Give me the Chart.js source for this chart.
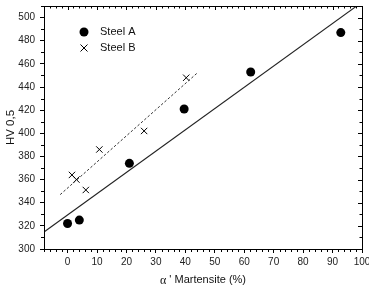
<!DOCTYPE html>
<html>
<head>
<meta charset="utf-8">
<script src="https://cdn.jsdelivr.net/npm/chart.js@4.4.1/dist/chart.umd.min.js"></script>
<style>
html,body{margin:0;padding:0;background:#fff;}
#c{display:block;}
</style>
</head>
<body>
<canvas id="c" width="369" height="285"></canvas>
<script>
// ---- data ----
const steelA_x = [0, 4, 21, 39.6, 62.2, 92.8];
const steelA_y = [322, 325, 374, 421, 453, 487];
const steelB_x = [1.5, 3, 6.2, 10.8, 26, 40.3];
const steelB_y = [364, 360, 351, 386, 402, 448];
const fitA_x = [-8, 100];
const fitA_y = [314.7, 513.3];
const fitB_x = [-2.5, 44];
const fitB_y = [347, 452];
const xTicks = [0, 10, 20, 30, 40, 50, 60, 70, 80, 90, 100];
const yTicks = [300, 320, 340, 360, 380, 400, 420, 440, 460, 480, 500];
const xRange = [-8, 100];
const yRange = [300, 510];
const legendLabels = ['Steel A', 'Steel B'];
const xTitleGreek = 'α';
const xTitleRest = " ' Martensite (%)";
const yTitle = 'HV 0,5';

const zip = (xs, ys) => xs.map((x, i) => ({x: x, y: ys[i]}));
const SANS = "'Liberation Sans', Arial, sans-serif";

const framePlugin = {
  id: 'frame',
  afterDraw(chart) {
    const ctx = chart.ctx;
    const a = chart.chartArea;
    const xs = chart.scales.x, ys = chart.scales.y;
    ctx.save();
    ctx.strokeStyle = '#000';
    ctx.lineWidth = 1;
    ctx.beginPath();
    ctx.rect(Math.round(a.left) + 0.5, Math.round(a.top) + 0.5, Math.round(a.right - a.left), Math.round(a.bottom - a.top));
    ctx.stroke();
    ctx.beginPath();
    for (let v = -8; v <= 100; v += 2) {
      const px = Math.round(xs.getPixelForValue(v)) + 0.5;
      const major = (v % 10 === 0);
      if (!major) {
        ctx.moveTo(px, a.bottom); ctx.lineTo(px, a.bottom + 3);
      }
      ctx.moveTo(px, a.top); ctx.lineTo(px, a.top + (major ? 4 : 2.5));
    }
    for (let v = 300; v <= 510; v += 10) {
      const py = Math.round(ys.getPixelForValue(v)) + 0.5;
      const major = (v % 20 === 0);
      if (!major) {
        ctx.moveTo(a.left, py); ctx.lineTo(a.left - 3, py);
      }
      ctx.moveTo(a.right, py); ctx.lineTo(a.right - (major ? 4 : 2.5), py);
    }
    ctx.stroke();

    // legend inside plot
    ctx.fillStyle = '#000';
    const lx = xs.getPixelForValue(xRange[0]) + 40;
    const ly1 = a.top + 26, ly2 = a.top + 42;
    ctx.beginPath();
    ctx.arc(lx, ly1, 4.5, 0, Math.PI * 2);
    ctx.fill();
    ctx.beginPath();
    ctx.moveTo(lx - 3.5, ly2 - 3.5); ctx.lineTo(lx + 3.5, ly2 + 3.5);
    ctx.moveTo(lx + 3.5, ly2 - 3.5); ctx.lineTo(lx - 3.5, ly2 + 3.5);
    ctx.stroke();
    ctx.font = '11px ' + SANS;
    ctx.textBaseline = 'middle';
    ctx.textAlign = 'left';
    ctx.fillStyle = '#111';
    ctx.fillText(legendLabels[0], lx + 16, ly1);
    ctx.fillText(legendLabels[1], lx + 16, ly2);

    // x title
    const cx = (a.left + a.right) / 2;
    ctx.font = '11px ' + SANS;
    const wRest = ctx.measureText(xTitleRest).width;
    ctx.font = "12px 'Liberation Serif', serif";
    const wG = ctx.measureText(xTitleGreek).width;
    let sx = cx - (wRest + wG) / 2;
    const ty = 280;
    ctx.textBaseline = 'middle';
    ctx.fillText(xTitleGreek, sx, ty + 1);
    ctx.font = '11px ' + SANS;
    ctx.fillText(xTitleRest, sx + wG, ty);

    // y title
    ctx.save();
    ctx.translate(11, (a.top + a.bottom) / 2);
    ctx.rotate(-Math.PI / 2);
    ctx.textAlign = 'center';
    ctx.font = '11.5px ' + SANS;
    ctx.fillText(yTitle, 0, 0);
    ctx.restore();
    ctx.restore();
  }
};

new Chart(document.getElementById('c'), {
  type: 'scatter',
  data: {
    datasets: [
      {label: 'fitA', type: 'line', data: zip(fitA_x, fitA_y), borderColor: '#222', borderWidth: 1.1, pointRadius: 0, fill: false, tension: 0},
      {label: 'fitB', type: 'line', data: zip(fitB_x, fitB_y), borderColor: '#333', borderWidth: 1, borderDash: [2.5, 2], pointRadius: 0, fill: false, tension: 0},
      {label: legendLabels[0], data: zip(steelA_x, steelA_y), pointStyle: 'circle', pointRadius: 4.5, backgroundColor: '#000', borderColor: '#000', borderWidth: 0},
      {label: legendLabels[1], data: zip(steelB_x, steelB_y), pointStyle: 'crossRot', pointRadius: 4.5, borderColor: '#000', borderWidth: 1}
    ]
  },
  options: {
    responsive: false,
    animation: false,
    layout: {padding: {left: 0, right: 7, top: 6, bottom: 0}},
    plugins: {legend: {display: false}, tooltip: {enabled: false}},
    scales: {
      x: {
        type: 'linear', min: xRange[0], max: xRange[1],
        afterBuildTicks: s => { s.ticks = xTicks.map(v => ({value: v})); },
        afterFit: s => { s.height = 36; s.paddingLeft = 0; s.paddingRight = 0; },
        grid: {display: true, drawOnChartArea: false, drawTicks: true, tickLength: 4, tickColor: '#000'},
        border: {display: true, color: '#000'},
        ticks: {autoSkip: false, maxRotation: 0, padding: 3, color: '#222', font: {family: SANS, size: 10}}
      },
      y: {
        type: 'linear', min: yRange[0], max: yRange[1],
        afterBuildTicks: s => { s.ticks = yTicks.map(v => ({value: v})); },
        afterFit: s => { s.width = 44; s.paddingTop = 0; s.paddingBottom = 0; },
        grid: {display: true, drawOnChartArea: false, drawTicks: true, tickLength: 4, tickColor: '#000'},
        border: {display: true, color: '#000'},
        ticks: {autoSkip: false, padding: 5, color: '#222', font: {family: SANS, size: 10}}
      }
    }
  },
  plugins: [framePlugin]
});
</script>
</body>
</html>
